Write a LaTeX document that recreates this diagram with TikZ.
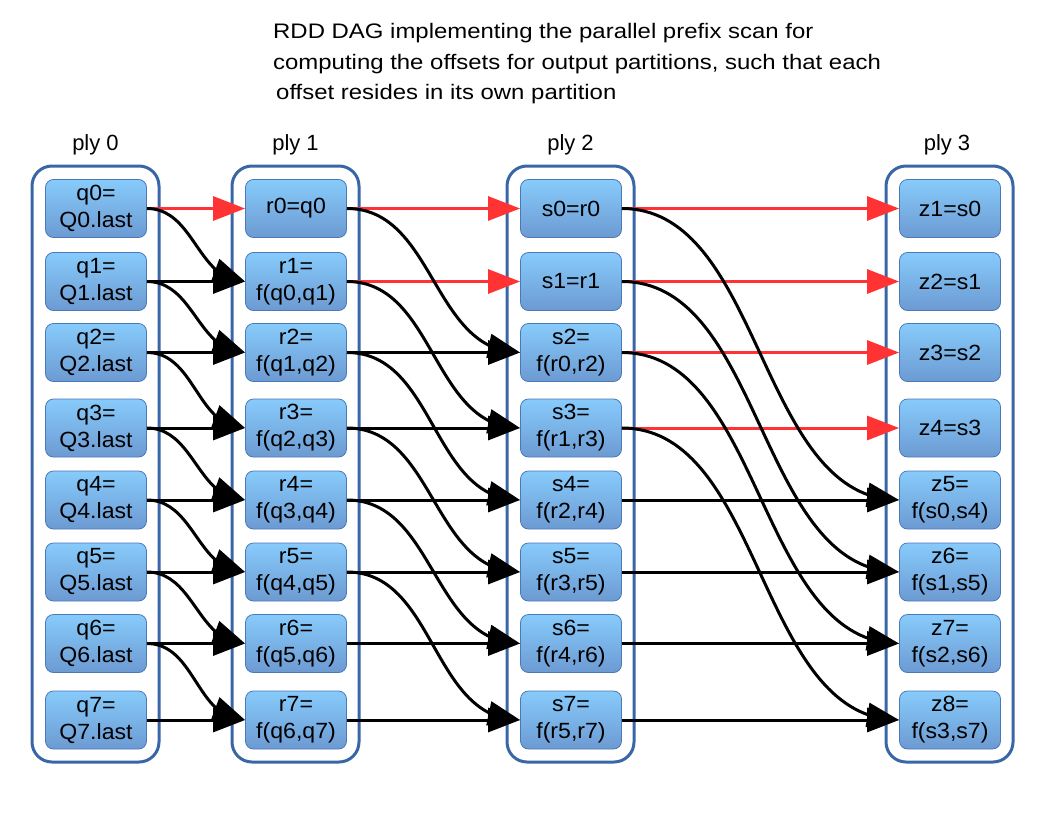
\documentclass[tikz,border=0pt]{standalone}
\usepackage{fontspec}
\setmainfont{Liberation Sans}
\newfontfamily\titlefont{Liberation Sans}[FakeStretch=1.14]
\newfontfamily\partfont{Liberation Sans}[FakeStretch=1.05]
\usetikzlibrary{arrows.meta,bending}
\definecolor{boxtop}{RGB}{135,203,251}
\definecolor{boxbot}{RGB}{108,154,210}
\definecolor{boxline}{RGB}{74,120,184}
\definecolor{plyline}{RGB}{57,102,166}
\definecolor{scanred}{RGB}{255,51,51}
\tikzset{
  part/.style={rounded corners=8pt, draw=boxline, line width=0.8pt,
    top color=boxtop, bottom color=boxbot, minimum width=101pt,
    minimum height=58pt, inner sep=0pt, align=center,
    font=\partfont\fontsize{22}{27}\selectfont},
  plybox/.style={rounded corners=20pt, draw=plyline, line width=3pt,
    minimum width=127pt, minimum height=596pt, inner sep=0pt},
  plylabel/.style={font=\fontsize{22}{26}\selectfont},
  dep/.style={line width=3pt, -{Triangle[length=32pt,width=24pt,flex]}},
  redcopy/.style={dep, scanred},
}
\begin{document}
\begin{tikzpicture}[x=1pt,y=-1pt]
\useasboundingbox (0,0) rectangle (1056,816);
\node[anchor=north west, align=left, inner sep=0pt,
  font=\titlefont\fontsize{21}{30.5}\selectfont] (title) at (273,23.5)
  {RDD DAG implementing the parallel prefix scan for\\
   computing the offsets for output partitions, such that each\\
   \hspace{3pt}offset resides in its own partition};
% the four plies
\node[plybox] (ply0) at (95.5,464) {};
\node[plybox] (ply1) at (295.5,464) {};
\node[plybox] (ply2) at (570.5,464) {};
\node[plybox] (ply3) at (949.5,464) {};
\node[plylabel] (lab0) at (95.5,145) {ply 0};
\node[plylabel] (lab1) at (295.5,145) {ply 1};
\node[plylabel] (lab2) at (570.5,145) {ply 2};
\node[plylabel] (lab3) at (947,145) {ply 3};
% partitions
\foreach \i/\y in {0/208.5,1/281.5,2/352.5,3/428,4/500,5/572,6/643.5,7/720}
  \node[part] (q\i) at (96,\y) {q\i=\\Q\i.last};
\node[part] (r0) at (296,208.5) {r0=q0};
\foreach \i/\j/\y in {1/0/281.5,2/1/352.5,3/2/428,4/3/500,5/4/572,6/5/643.5,7/6/720}
  \node[part] (r\i) at (296,\y) {r\i=\\f(q\j,q\i)};
\node[part] (s0) at (571,208.5) {s0=r0};
\node[part] (s1) at (571,281.5) {s1=r1};
\foreach \i/\j/\y in {2/0/352.5,3/1/428,4/2/500,5/3/572,6/4/643.5,7/5/720}
  \node[part] (s\i) at (571,\y) {s\i=\\f(r\j,r\i)};
\foreach \i/\k/\y in {0/1/208.5,1/2/281.5,2/3/352.5,3/4/428}
  \node[part] (z\k) at (950,\y) {z\k=s\i};
\foreach \i/\j/\k/\y in {4/0/5/500,5/1/6/572,6/2/7/643.5,7/3/8/720}
  \node[part] (z\k) at (950,\y) {z\k=\\f(s\j,s\i)};
% dependencies
\draw[redcopy] (q0.east) -- (r0.west);
\draw[redcopy] (r0.east) -- (s0.west);
\draw[redcopy] (r1.east) -- (s1.west);
\foreach \i [evaluate=\i as \k using int(\i+1)] in {0,...,3}
  \draw[redcopy] (s\i.east) -- (z\k.west);
\foreach \i in {1,...,7}
  \draw[dep] (q\i.east) -- (r\i.west);
\foreach \i in {2,...,7}
  \draw[dep] (r\i.east) -- (s\i.west);
\foreach \i [evaluate=\i as \k using int(\i+1)] in {4,...,7}
  \draw[dep] (s\i.east) -- (z\k.west);
\foreach \i [evaluate=\i as \k using int(\i+1)] in {0,...,6}
  \draw[dep] (q\i.east) to[out=0,in=180] (r\k.west);
\foreach \i [evaluate=\i as \k using int(\i+2)] in {0,...,5}
  \draw[dep] (r\i.east) to[out=0,in=180] (s\k.west);
\foreach \i [evaluate=\i as \k using int(\i+5)] in {0,...,3}
  \draw[dep] (s\i.east) to[out=0,in=180,looseness=0.9] (z\k.west);
\end{tikzpicture}
\end{document}
